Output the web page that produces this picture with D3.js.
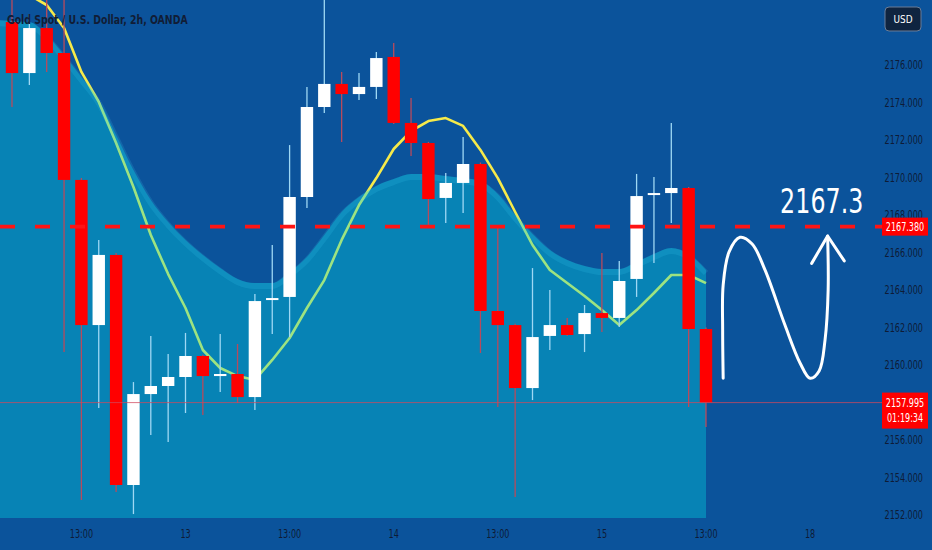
<!DOCTYPE html>
<html><head><meta charset="utf-8">
<script src="https://cdn.jsdelivr.net/npm/d3@7"></script>
<style>html,body{margin:0;padding:0;background:#0b539b;overflow:hidden}</style>
</head><body><svg id="c" width="932" height="550"></svg>
<script>
// ---- data ----
const opens  = [2178.29,2175.57,2177.97,2176.64,2169.87,2162.13,2165.87,2153.60,2158.45,2158.88,2159.36,2160.48,2159.41,2159.52,2158.29,2163.47,2163.63,2168.96,2173.76,2174.99,2174.45,2174.83,2176.43,2172.91,2171.84,2168.91,2169.71,2170.72,2162.88,2162.13,2158.77,2161.55,2162.13,2161.65,2162.77,2162.51,2164.59,2169.07,2169.17,2169.44,2161.92];
const highs  = [2179.63,2178.72,2179.47,2179.57,2169.97,2166.67,2165.97,2159.09,2161.55,2160.59,2161.71,2160.55,2161.65,2161.12,2163.79,2166.40,2171.73,2174.83,2179.73,2175.63,2175.57,2176.69,2177.17,2174.24,2171.90,2170.24,2172.16,2170.80,2167.41,2162.20,2165.17,2164.00,2162.51,2163.20,2165.97,2165.55,2170.19,2170.03,2172.91,2169.50,2162.00];
const lows   = [2173.76,2174.93,2175.63,2160.69,2152.80,2157.71,2153.23,2152.05,2156.27,2155.89,2157.44,2157.33,2158.56,2157.97,2157.60,2161.65,2161.49,2168.37,2173.44,2171.89,2174.13,2174.19,2172.85,2171.15,2167.36,2167.57,2168.11,2160.64,2157.76,2152.96,2158.13,2160.80,2161.55,2160.69,2161.76,2162.03,2163.63,2165.44,2167.57,2157.76,2156.69];
const closes = [2175.57,2177.97,2176.64,2169.87,2162.13,2165.87,2153.60,2158.45,2158.88,2159.36,2160.48,2159.41,2159.52,2158.29,2163.41,2163.57,2168.96,2173.76,2174.99,2174.45,2174.83,2176.37,2172.91,2171.84,2168.85,2169.71,2170.72,2162.88,2162.13,2158.77,2161.49,2162.13,2161.60,2162.77,2162.51,2164.48,2169.01,2169.17,2169.44,2161.92,2157.995];
// moving average, bar index -1 .. 40
const maValues = [2180.8,2180.27,2179.73,2179.2,2177.97,2175.63,2174.03,2171.84,2169.49,2166.93,2164.85,2163.04,2160.8,2159.84,2159.41,2159.2,2160.27,2161.44,2163.04,2164.53,2166.67,2168.53,2169.97,2171.52,2172.48,2173.01,2173.17,2172.75,2171.47,2169.97,2168.16,2166.4,2165.07,2164.37,2163.68,2162.93,2162.13,2162.93,2163.84,2164.8,2164.8,2164.37];
// shaded area upper edge, bar index -1 .. 40
const bandValues = [2178.4,2178.35,2178.29,2177.6,2176.53,2175.36,2174.13,2172.27,2170.4,2168.8,2167.63,2166.67,2165.87,2165.17,2164.59,2164.37,2164.37,2164.96,2165.76,2166.93,2168.16,2168.96,2169.55,2169.92,2170.19,2170.19,2170.08,2169.97,2169.81,2169.12,2168.0,2166.99,2166.13,2165.6,2165.28,2165.12,2165.12,2165.49,2165.92,2166.24,2165.92,2165.07];
const yTicks = [2152,2154,2156,2158,2160,2162,2164,2166,2168,2170,2172,2174,2176];
const xTickIdx = [4,10,16,22,28,34,40,46];
const xTickLabels = ["13:00","13","13:00","14","13:00","15","13:00","18"];
const title = "Gold Spot / U.S. Dollar, 2h, OANDA";
const levelPrice = 2167.38, lastPrice = 2157.995, countdown = "01:19:34";
const targetText = "2167.3";
// hand-drawn projection (bar index, price)
const annIdx   = [40.99,40.96,40.99,41.33,41.96,42.66,43.4,44.55,45.42,46.0,46.52,46.86,47.04,47.01];
const annPrice = [2159.29,2161.87,2164.27,2166.03,2166.81,2166.45,2165.07,2162.13,2160.11,2159.29,2159.68,2161.33,2164.0,2166.88];
const headIdx = [46.09,47.01,47.97], headPrice = [2165.42,2166.88,2165.55];
const targetPos = [46.67, 2168.11];

// ---- drawing ----
const W=932,H=550,plotW=875,plotH=518;
const BG='#0b539b', LABEL='#0e1b36';
const FONT='DejaVu Sans Condensed, DejaVu Sans';
const x=d3.scaleLinear().domain([0,40]).range([12,706]);
const y=d3.scaleLinear().domain([2152,2176]).range([515,65]);
const svg=d3.select('#c');
svg.append('rect').attr('width',W).attr('height',H).attr('fill',BG);
svg.append('defs').append('clipPath').attr('id','plot').append('rect').attr('width',plotW).attr('height',plotH);
const g=svg.append('g').attr('clip-path','url(#plot)');

// narrow text via horizontal scale around its anchor
function label(parent,px,py,str,opts){
  const t=parent.append('text').attr('x',0).attr('y',0)
    .attr('transform',`translate(${px},${py}) scale(${opts.sx||0.78},1)`)
    .attr('text-anchor',opts.anchor||'start').attr('font-family',opts.font||FONT)
    .attr('font-size',opts.size||11.5).attr('fill',opts.fill||LABEL)
    .attr('font-weight',opts.weight||'normal').text(str);
  return t;
}

const maData=maValues.map((v,k)=>({i:k-1,v}));
g.append('path').datum(maData)
 .attr('d',d3.line().x(d=>x(d.i)).y(d=>y(d.v)))
 .attr('fill','none').attr('stroke','#f6ea4a').attr('stroke-width',2.6).attr('stroke-linejoin','round');

svg.append('line').attr('x1',0).attr('x2',882).attr('y1',y(levelPrice)).attr('y2',y(levelPrice))
 .attr('stroke','#ff1414').attr('stroke-width',3.6).attr('stroke-dasharray','15 20');

const bandData=bandValues.map((v,k)=>({i:k-1,v}));
g.append('path').datum(bandData)
 .attr('d',d3.area().x(d=>x(d.i)).y0(plotH).y1(d=>y(d.v)).curve(d3.curveMonotoneX))
 .attr('fill','#00d8e4').attr('fill-opacity',0.36);
g.append('path').datum(bandData)
 .attr('d',d3.line().x(d=>x(d.i)).y(d=>y(d.v)+3).curve(d3.curveMonotoneX))
 .attr('fill','none').attr('stroke','#3fd0f5').attr('stroke-opacity',0.16).attr('stroke-width',6);

const candles=opens.map((o,i)=>({i,o,h:highs[i],l:lows[i],c:closes[i]}));
const cg=g.append('g');
cg.selectAll('line.w').data(candles).join('line').attr('class','w')
 .attr('x1',d=>x(d.i)).attr('x2',d=>x(d.i)).attr('y1',d=>y(d.h)).attr('y2',d=>y(d.l))
 .attr('stroke',d=>d.c>=d.o?'#9fd8f4':'#b84a5c').attr('stroke-width',1.3);
cg.selectAll('rect.b').data(candles).join('rect').attr('class','b')
 .attr('x',d=>x(d.i)-6.2).attr('width',12.4)
 .attr('y',d=>y(Math.max(d.o,d.c)))
 .attr('height',d=>Math.max(2,Math.abs(y(d.o)-y(d.c))))
 .attr('fill',d=>d.c>=d.o?'#ffffff':'#ff0000');

svg.append('line').attr('x1',0).attr('x2',882).attr('y1',y(lastPrice)).attr('y2',y(lastPrice))
 .attr('stroke','#d04a5e').attr('stroke-opacity',0.75).attr('stroke-width',1);

// annotation
const ann=annIdx.map((v,k)=>[x(v),y(annPrice[k])]);
svg.append('path').attr('d',d3.line().curve(d3.curveCatmullRom)(ann))
 .attr('fill','none').attr('stroke','#fff').attr('stroke-width',3).attr('stroke-linecap','round').attr('stroke-linejoin','round');
svg.append('path').attr('d',d3.line()(headIdx.map((v,k)=>[x(v),y(headPrice[k])])))
 .attr('fill','none').attr('stroke','#fff').attr('stroke-width',3).attr('stroke-linecap','round').attr('stroke-linejoin','round');
label(svg,x(targetPos[0]),y(targetPos[1]),targetText,{anchor:'middle',font:'DejaVu Sans',size:34,fill:'#fff',sx:0.7});

// y axis labels (2158 sits under the live price tag)
const ya=svg.append('g');
yTicks.filter(d=>Math.abs(y(d)-y(lastPrice))>14).forEach(d=>label(ya,923,y(d)+4,d3.format('.3f')(d),{anchor:'end'}));

// x axis labels
const xa=svg.append('g');
xTickIdx.forEach((d,k)=>label(xa,x(d),538,xTickLabels[k],{anchor:'middle'}));

// title
label(svg,7,24,title,{size:13,fill:'#111d36',sx:0.8,weight:'600'});

// price labels
const ly=y(levelPrice);
svg.append('rect').attr('x',882).attr('y',ly-9).attr('width',46).attr('height',18).attr('fill','#ff0000');
label(svg,905,ly+4.5,d3.format('.3f')(levelPrice),{anchor:'middle',fill:'#fff'});
const py=y(lastPrice);
svg.append('rect').attr('x',882).attr('y',py-10).attr('width',46).attr('height',36).attr('fill','#ff0000');
label(svg,905,py+4.5,d3.format('.3f')(lastPrice),{anchor:'middle',fill:'#fff'});
label(svg,905,py+19.5,countdown,{anchor:'middle',fill:'#fff'});

// currency badge
svg.append('rect').attr('x',885).attr('y',7).attr('width',36).attr('height',24).attr('rx',4)
 .attr('fill','#0f2440').attr('stroke','#6a7d98').attr('stroke-width',1);
label(svg,903,23,'USD',{anchor:'middle',fill:'#fff',size:11,sx:0.9});
</script></body></html>
